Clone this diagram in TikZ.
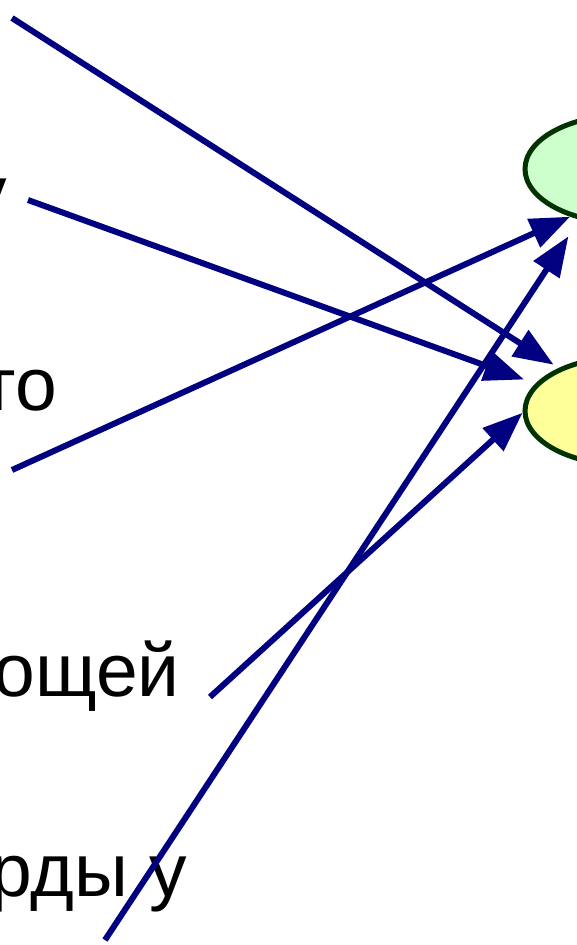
\documentclass[tikz,border=0pt]{standalone}
\usepackage{fontspec}
\setmainfont{Liberation Sans}
\usetikzlibrary{arrows.meta, positioning, shapes.geometric}
\definecolor{Flecha}{RGB}{0,0,128}
\definecolor{Borde}{RGB}{0,51,0}
\definecolor{VerdeClaro}{RGB}{204,255,204}
\definecolor{AmarilloClaro}{RGB}{255,255,153}

\begin{document}
\begin{tikzpicture}[
  x=1pt, y=-1pt,
  font=\fontsize{75}{90}\selectfont,
  estado/.style={draw=Borde, ellipse, line width=5pt, minimum width=200pt,
                 minimum height=108pt, inner sep=0pt},
  arr/.style={-{Triangle[length=40pt, width=30pt]}, draw=Flecha, line width=6pt},
  lbl/.style={anchor=base east, inner sep=0pt}
]
\useasboundingbox (0,0) rectangle (577,945);

%% ---- Estados (elipses, cortadas a la derecha) ----
\node[estado, fill=VerdeClaro]    (verde)    at (625,169) {};
\node[estado, fill=AmarilloClaro] (amarillo) at (625,411) {};

%% ---- Textos (cortados a la izquierda) ----
\node[lbl] (t1) at (7,218)   {у};
\node[lbl] (t2) at (57,410)  {то};
\node[lbl] (t3) at (180,696) {ощей};
\node[lbl] (t4) at (187,896) {рды у};

%% ---- Origen de las flechas ----
\coordinate (s1) at (12,18);
\coordinate (s2) at (28,200);
\coordinate (s3) at (12,470);
\coordinate (s4) at (210,697);
\coordinate (s5) at (105,940);

%% ---- Flechas ----
\draw[arr, shorten >=6pt]  (s1) -- (amarillo.147);
\draw[arr, shorten >=12pt] (s2) -- (amarillo.163);
\draw[arr]                 (s3) -- (verde.221);
\draw[arr]                 (s4) -- (amarillo.181);
\draw[arr, shorten >=20pt] (s5) -- (verde.228);

\end{tikzpicture}
\end{document}
